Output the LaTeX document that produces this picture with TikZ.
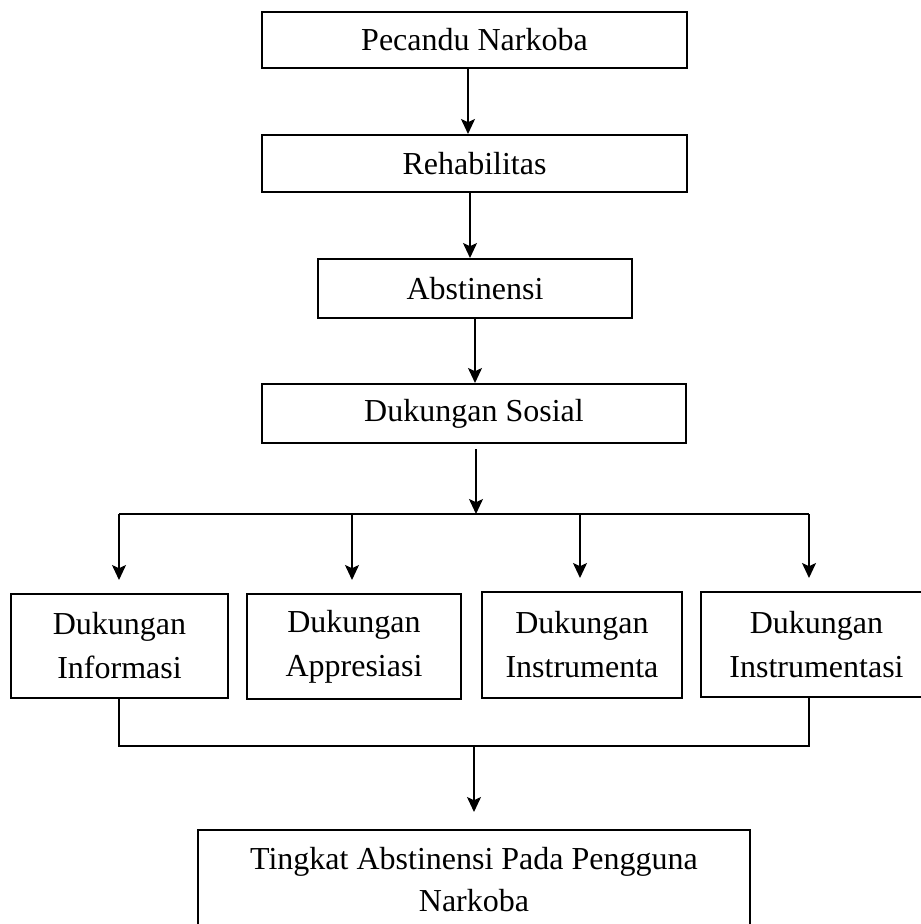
\documentclass[tikz,border=0pt]{standalone}
\usepackage{fontspec}
\setmainfont{Liberation Serif}
\usetikzlibrary{arrows.meta}
\begin{document}
\begin{tikzpicture}[x=0.5pt,y=-0.5pt,
  box/.style={draw,line width=1pt,inner sep=0pt,align=center,font=\fontsize{16}{22}\selectfont},
  conn/.style={line width=0.75pt},
  arr/.style={conn,-{Stealth[length=7.5pt,width=7pt,inset=1.6pt]}}]
\useasboundingbox (0,0) rectangle (920,924);
% boxes
\node[box,minimum width=212.5pt,minimum height=28pt] (B1) at (474.5,40) {Pecandu Narkoba};
\node[box,minimum width=212.5pt,minimum height=28.5pt] (B2) at (474.5,163.5) {Rehabilitas};
\node[box,minimum width=157pt,minimum height=29.5pt] (B3) at (475,288.5) {Abstinensi};
\node[box,minimum width=212pt,minimum height=29.5pt] (B4) at (474,413.5) {Dukungan Sosial};
\node[box,minimum width=108.5pt,minimum height=52pt] (Inf) at (119.5,646) {Dukungan\\Informasi};
\node[box,minimum width=107pt,minimum height=52.5pt] (App) at (354,646.5) {Dukungan\\Appresiasi};
\node[box,minimum width=100pt,minimum height=53pt] (Ins) at (582,645) {Dukungan\\Instrumenta};
\node[box,minimum width=116pt,minimum height=52.5pt] (Inst) at (816.5,644.5) {Dukungan\\Instrumentasi};
\node[box,anchor=north,minimum width=276pt,inner ysep=8.5pt,font=\fontsize{16}{21}\selectfont] (Fin) at (474,829) {Tingkat Abstinensi Pada Pengguna\\Narkoba};
% junction coordinates
\coordinate (hL) at (119,514);
\coordinate (hA) at (352,514);
\coordinate (hM) at (476,514);
\coordinate (hI) at (580,514);
\coordinate (hR) at (809,514);
\coordinate (bL) at (119,746);
\coordinate (bR) at (809,746);
% vertical chain
\draw[arr] ([xshift=-3.25pt]B1.south) coordinate (a1) -- (a1 |- B2.north);
\draw[arr] ([xshift=-2.25pt]B2.south) coordinate (a2) -- (a2 |- B3.north);
\draw[arr] (B3.south) -- (B3.south |- B4.north);
\draw[arr] ([yshift=-2.5pt]B4.south -| hM) -- (hM);
% distribution
\draw[conn] (hL) -- (hR);
\draw[arr] (hL) -- ([yshift=6.5pt]Inf.north -| hL);
\draw[arr] (hA) -- ([yshift=6.5pt]App.north -| hA);
\draw[arr] (hI) -- ([yshift=6.5pt]Ins.north -| hI);
\draw[arr] (hR) -- ([yshift=6.5pt]Inst.north -| hR);
% collection
\draw[conn] (Inf.south -| bL) -- (bL) -- (bR) -- (Inst.south -| bR);
\draw[arr] (Fin.north |- bL) -- ([yshift=8.5pt]Fin.north);
\end{tikzpicture}
\end{document}
